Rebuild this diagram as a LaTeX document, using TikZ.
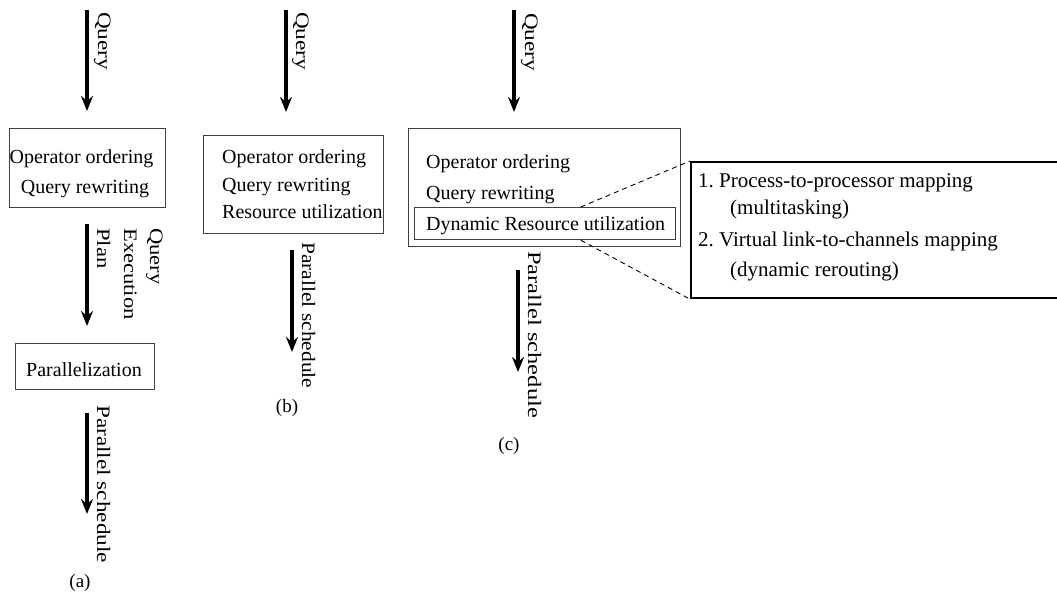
\documentclass[tikz,border=0pt]{standalone}
\usepackage{fontspec}
\setmainfont{Liberation Serif}
\usetikzlibrary{arrows.meta,calc}
\frenchspacing
\begin{document}
\begin{tikzpicture}[x=1pt,y=-1pt]
\tikzset{
  flow/.style={line width=3.5pt, -{Stealth[length=15pt,width=12pt,inset=5pt]}},
  stage/.style={draw=black!75, line width=1.2pt, inner sep=0pt, anchor=north west},
  boxtext/.style={inner sep=0pt, font=\fontsize{20}{24}\selectfont},
  flowlabel/.style={inner sep=0pt, rotate=-90, anchor=base west, font=\fontsize{19}{23}\selectfont},
  caption/.style={inner sep=0pt, anchor=base, font=\fontsize{19}{23}\selectfont},
  detail/.style={draw=black, line width=2.2pt, inner sep=0pt, anchor=north west},
  detailtext/.style={inner sep=0pt, anchor=base west, font=\fontsize{21}{25}\selectfont},
  zoomline/.style={line width=0.9pt, dash pattern=on 5pt off 4pt}
}
\useasboundingbox (0,0) rectangle (1057,592);
\clip (0,0) rectangle (1057,592);

% ---------- (a) ----------
\node[stage, minimum width=156pt, minimum height=79pt] (a1) at (9,128) {};
\node[boxtext, anchor=base] (a1t1) at (81.5,163) {Operator ordering};
\node[boxtext, anchor=base] (a1t2) at (85,193) {Query rewriting};
\node[stage, minimum width=139pt, minimum height=46pt] (a2) at (15,343) {};
\node[boxtext, anchor=base] (a2t) at (84,376) {Parallelization};

\coordinate (aq0) at (87,10);   \coordinate (aq1) at (87,111);
\coordinate (ap0) at (87,224);  \coordinate (ap1) at (87,326);
\coordinate (as0) at (87,413);  \coordinate (as1) at (87,514);
\draw[flow] (aq0) -- (aq1);
\draw[flow] (ap0) -- (ap1);
\draw[flow] (as0) -- (as1);

\node[flowlabel] (aql) at (98,12) {\scalebox{1.22}[1]{Query}};
\node[flowlabel] (apl1) at (150,228) {\scalebox{1.19}[1]{Query}};
\node[flowlabel] (apl2) at (124,228) {\scalebox{1.19}[1]{Execution}};
\node[flowlabel] (apl3) at (97,228) {\scalebox{1.19}[1]{Plan}};
\node[flowlabel] (asl) at (97,405) {\scalebox{1.22}[1]{Parallel schedule}};
\node[caption] (capa) at (80,587) {(a)};

% ---------- (b) ----------
\node[stage, minimum width=180pt, minimum height=98pt] (b1) at (203,135) {};
\node[boxtext, anchor=base west] (b1t1) at (222,163) {Operator ordering};
\node[boxtext, anchor=base west] (b1t2) at (222,191) {Query rewriting};
\node[boxtext, anchor=base west] (b1t3) at (222,218) {Resource utilization};

\coordinate (bq0) at (286,10);  \coordinate (bq1) at (286,112);
\coordinate (bs0) at (292,250); \coordinate (bs1) at (292,352);
\draw[flow] (bq0) -- (bq1);
\draw[flow] (bs0) -- (bs1);
\node[flowlabel] (bql) at (296,12) {\scalebox{1.22}[1]{Query}};
\node[flowlabel] (bsl) at (302,242) {\scalebox{1.13}[1]{Parallel schedule}};
\node[caption] (capb) at (287,412) {(b)};

% ---------- (c) ----------
\node[stage, minimum width=272pt, minimum height=118pt] (c1) at (408,128) {};
\node[boxtext, anchor=base west] (c1t1) at (426,168) {Operator ordering};
\node[boxtext, anchor=base west] (c1t2) at (426,199) {Query rewriting};
\node[stage, minimum width=261pt, minimum height=32pt] (dr) at (414,207) {};
\node[boxtext, anchor=base west] (drt) at (426,230) {Dynamic Resource utilization};

\coordinate (cq0) at (514,10);  \coordinate (cq1) at (514,112);
\coordinate (cs0) at (518,270); \coordinate (cs1) at (518,372);
\draw[flow] (cq0) -- (cq1);
\draw[flow] (cs0) -- (cs1);
\node[flowlabel] (cql) at (525,13) {\scalebox{1.22}[1]{Query}};
\node[flowlabel] (csl) at (528,251) {\scalebox{1.29}[1]{Parallel schedule}};
\node[caption] (capc) at (509,450) {(c)};

% ---------- detail of the dynamic stage ----------
\node[detail, minimum width=380pt, minimum height=136pt] (det) at (690,161) {};
\node[detailtext] (d1) at (698,187) {1. Process-to-processor mapping};
\node[detailtext] (d2) at (730,214) {(multitasking)};
\node[detailtext] (d3) at (698,246) {2. Virtual link-to-channels mapping};
\node[detailtext] (d4) at (730,276) {(dynamic rerouting)};

\draw[zoomline] ($(dr.north west)!0.636!(dr.north east)$) -- (det.north west);
\draw[zoomline] ($(dr.south west)!0.636!(dr.south east)$) -- (det.south west);
\end{tikzpicture}
\end{document}
